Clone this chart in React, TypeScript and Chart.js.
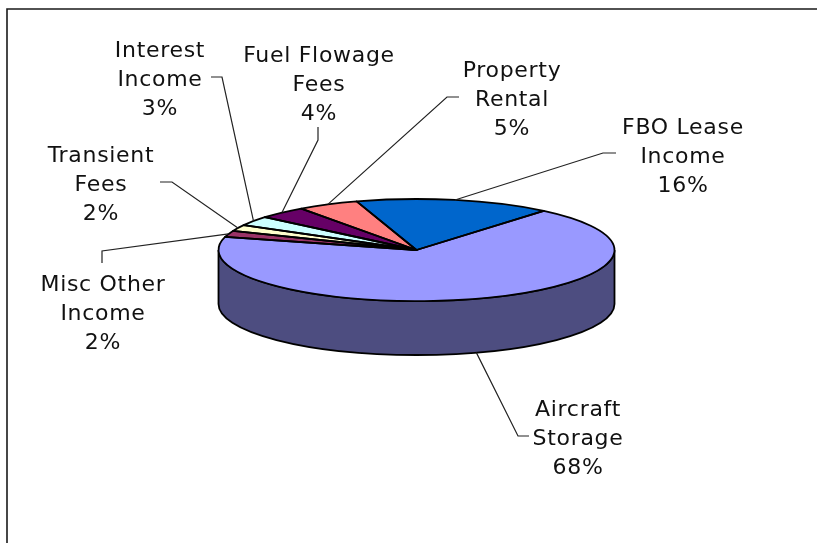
import React, { useEffect, useRef } from "react";
import { Chart, registerables } from "chart.js";

Chart.register(...registerables);

const categories = [
  "Aircraft Storage",
  "Misc Other Income",
  "Transient Fees",
  "Interest Income",
  "Fuel Flowage Fees",
  "Property Rental",
  "FBO Lease Income",
];
const shares = [68, 2, 2, 3, 4, 5, 16];
const sliceColors = ["#9999FF", "#993366", "#FFFFCC", "#CCFFFF", "#660066", "#FF8080", "#0066CC"];
const labelLines = [
  ["Aircraft", "Storage", "68%"],
  ["Misc Other", "Income", "2%"],
  ["Transient", "Fees", "2%"],
  ["Interest", "Income", "3%"],
  ["Fuel Flowage", "Fees", "4%"],
  ["Property", "Rental", "5%"],
  ["FBO Lease", "Income", "16%"],
];
// label centre x, first-line y, then the leader's two elbow points
const labelLayout = [
  { x: 578, y: 410, e1: [518, 436], e2: [529, 436] },
  { x: 103, y: 285, e1: [102, 251], e2: [102, 263] },
  { x: 101, y: 156, e1: [172, 182], e2: [160, 182] },
  { x: 160, y: 51, e1: [222, 77], e2: [211, 77] },
  { x: 319, y: 56, e1: [318, 140], e2: [318, 127] },
  { x: 512, y: 71, e1: [447, 97], e2: [459, 97] },
  { x: 683, y: 128, e1: [603, 153], e2: [616, 153] },
];

const W = 817;
const H = 543;
const PIE_CX = 416.5;
const PIE_CY = 250;
const RX = 198;
const RY = 51;
const DEPTH = 54;
const LINE_GAP = 29;
const FONT = '22px "DejaVu Sans", Verdana, sans-serif';

function shade(hex: string, f: number) {
  const n = parseInt(hex.slice(1), 16);
  const c = [(n >> 16) & 255, (n >> 8) & 255, n & 255].map((v) => Math.round(v * f));
  return `rgb(${c[0]},${c[1]},${c[2]})`;
}

const pie3d = {
  id: "pie3d",
  beforeDatasetsDraw(chart: any) {
    const ctx = chart.ctx as CanvasRenderingContext2D;
    const arcs = chart.getDatasetMeta(0).data;
    // frame: only the top and left edges fall inside the picture
    ctx.save();
    ctx.strokeStyle = "#1a1a1a";
    ctx.lineWidth = 1.6;
    ctx.beginPath();
    ctx.moveTo(7, H);
    ctx.lineTo(7, 9);
    ctx.lineTo(W, 9);
    ctx.stroke();
    ctx.restore();

    // side wall: the front half of each slice, extruded downward
    ctx.save();
    ctx.lineWidth = 1.8;
    ctx.strokeStyle = "#000";
    arcs.forEach((arc: any, i: number) => {
      const a0 = Math.max(arc.startAngle, 0);
      const a1 = Math.min(arc.endAngle, Math.PI);
      if (a1 <= a0) return;
      ctx.beginPath();
      ctx.ellipse(PIE_CX, PIE_CY, RX, RY, 0, a0, a1, false);
      ctx.ellipse(PIE_CX, PIE_CY + DEPTH, RX, RY, 0, a1, a0, true);
      ctx.closePath();
      ctx.fillStyle = shade(sliceColors[i], 0.5);
      ctx.fill();
      ctx.stroke();
    });
    ctx.restore();

    // squash the library's round arcs into the tilted top face
    ctx.save();
    ctx.translate(PIE_CX, PIE_CY);
    ctx.scale(1, RY / RX);
    ctx.translate(-arcs[0].x, -arcs[0].y);
  },
  afterDatasetsDraw(chart: any) {
    const ctx = chart.ctx as CanvasRenderingContext2D;
    ctx.restore();
    const arcs = chart.getDatasetMeta(0).data;
    ctx.save();
    ctx.lineWidth = 1.8;
    ctx.strokeStyle = "#000";
    ctx.lineJoin = "round";
    arcs.forEach((arc: any) => {
      ctx.beginPath();
      ctx.moveTo(PIE_CX, PIE_CY);
      ctx.ellipse(PIE_CX, PIE_CY, RX, RY, 0, arc.startAngle, arc.endAngle, false);
      ctx.closePath();
      ctx.stroke();
    });
    ctx.restore();

    // leaders and labels
    ctx.save();
    ctx.font = FONT;
    (ctx as any).letterSpacing = "0.7px";
    ctx.fillStyle = "#111";
    ctx.textAlign = "center";
    ctx.textBaseline = "middle";
    arcs.forEach((arc: any, i: number) => {
      const mid = (arc.startAngle + arc.endAngle) / 2;
      const s = Math.sin(mid);
      const tipX = PIE_CX + RX * Math.cos(mid);
      const tipY = PIE_CY + RY * s + (s > 0 ? DEPTH : 0);
      const l = labelLayout[i];
      ctx.strokeStyle = "#222";
      ctx.lineWidth = 1.2;
      ctx.beginPath();
      ctx.moveTo(tipX, tipY);
      ctx.lineTo(l.e1[0], l.e1[1]);
      ctx.lineTo(l.e2[0], l.e2[1]);
      ctx.stroke();
      labelLines[i].forEach((t, j) => ctx.fillText(t, l.x, l.y + j * LINE_GAP));
    });
    ctx.restore();
  },
};

export default function App() {
  const ref = useRef<HTMLCanvasElement>(null);
  useEffect(() => {
    const chart = new Chart(ref.current!, {
      type: "pie",
      data: {
        labels: categories,
        datasets: [
          {
            data: shares,
            backgroundColor: sliceColors,
            borderWidth: 0,
            radius: RX,
            rotation: 40,
          } as any,
        ],
      },
      options: {
        responsive: false,
        animation: false,
        layout: { padding: 0 },
        plugins: { legend: { display: false }, tooltip: { enabled: false } },
      },
      plugins: [pie3d],
    });
    return () => chart.destroy();
  }, []);
  return (
    <div style={{ position: "fixed", left: 0, top: 0, width: W, height: H, background: "#fff" }}>
      <canvas ref={ref} width={W} height={H} style={{ display: "block" }} />
    </div>
  );
}
